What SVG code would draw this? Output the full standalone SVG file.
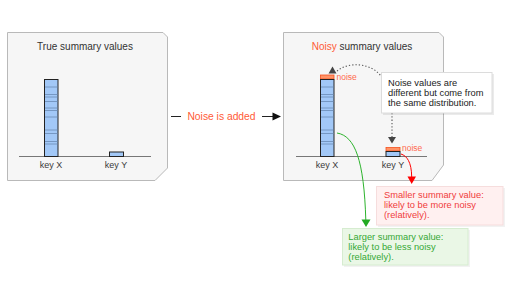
<svg xmlns="http://www.w3.org/2000/svg" width="512" height="290" viewBox="0 0 512 290">
<style>
text{font-family:"Liberation Sans",Arial,sans-serif}
.panel{fill:#f6f6f6;stroke:#b9b9b9;stroke-width:1}
.title{font-size:10px;fill:#333;text-anchor:middle}
.key{font-size:9px;fill:#3a3a3a;text-anchor:middle}
.axis{stroke:#777;stroke-width:1.2}
.bar{fill:#a2c8f7;stroke:#222;stroke-width:1}
.stripe{stroke:#6a8ab4;stroke-width:0.8}
.cap{fill:#ff9366;stroke:#f4511e;stroke-width:0.8}
.noise{font-size:8.5px;fill:#ff6a4d}
.note{font-size:9.3px}
</style>
<g id="panel-true">
<path class="panel" d="M7.5,32.5 H163 L167.5,37 V168 L155,180.5 H7.5 Z"/>
<text class="title" x="85" y="49.5">True summary values</text>
<line class="axis" x1="19" y1="156.5" x2="151" y2="156.5"/>
<rect class="bar" x="44.5" y="79.5" width="13.5" height="77"/>
<g class="stripe">
<line x1="45" x2="57.5" y1="87" y2="87"/><line x1="45" x2="57.5" y1="94.5" y2="94.5"/><line x1="45" x2="57.5" y1="97" y2="97"/><line x1="45" x2="57.5" y1="101.5" y2="101.5"/><line x1="45" x2="57.5" y1="108" y2="108"/><line x1="45" x2="57.5" y1="110.5" y2="110.5"/><line x1="45" x2="57.5" y1="117" y2="117"/><line x1="45" x2="57.5" y1="130" y2="130"/><line x1="45" x2="57.5" y1="133.5" y2="133.5"/><line x1="45" x2="57.5" y1="141.5" y2="141.5"/><line x1="45" x2="57.5" y1="144" y2="144"/>
</g>
<rect class="bar" x="109.5" y="152" width="14" height="4.5"/>
<text class="key" x="51" y="168">key X</text>
<text class="key" x="116" y="168">key Y</text>
</g>
<g id="panel-noisy">
<path class="panel" d="M283.5,32.5 H439 L443.5,37 V165 L432,180.5 H283.5 Z"/>
<text class="title" x="362" y="49.5"><tspan fill="#ff5a36">Noisy</tspan> summary values</text>
<line class="axis" x1="296" y1="156.5" x2="427" y2="156.5"/>
<rect class="cap" x="320.5" y="75" width="13.5" height="4"/>
<rect class="bar" x="320.5" y="79.5" width="13.5" height="77"/>
<g class="stripe">
<line x1="321" x2="333.5" y1="87" y2="87"/><line x1="321" x2="333.5" y1="94.5" y2="94.5"/><line x1="321" x2="333.5" y1="97" y2="97"/><line x1="321" x2="333.5" y1="101.5" y2="101.5"/><line x1="321" x2="333.5" y1="108" y2="108"/><line x1="321" x2="333.5" y1="110.5" y2="110.5"/><line x1="321" x2="333.5" y1="117" y2="117"/><line x1="321" x2="333.5" y1="130" y2="130"/><line x1="321" x2="333.5" y1="133.5" y2="133.5"/><line x1="321" x2="333.5" y1="141.5" y2="141.5"/><line x1="321" x2="333.5" y1="144" y2="144"/>
</g>
<text class="noise" x="336.5" y="79.5">noise</text>
<rect class="cap" x="386" y="147.5" width="14" height="3.5"/>
<rect class="bar" x="386" y="151.5" width="14" height="5"/>
<text class="noise" x="402" y="151">noise</text>
<text class="key" x="327" y="168">key X</text>
<text class="key" x="393" y="168">key Y</text>
</g>
<g id="connectors">
<line x1="171" y1="116.5" x2="181" y2="116.5" stroke="#222" stroke-width="1"/>
<line x1="262" y1="116.5" x2="274" y2="116.5" stroke="#222" stroke-width="1"/>
<polygon points="281,116.5 272.5,112.5 272.5,120.5" fill="#111"/>
<path d="M337,71 C348,62 370,62 381,76" fill="none" stroke="#555" stroke-width="1.1" stroke-dasharray="1.3 2"/>
<polygon points="332.5,66.5 328.5,73.5 336.5,73.5" fill="#444"/>
<path d="M392,113 V137" fill="none" stroke="#555" stroke-width="1.1" stroke-dasharray="1.3 2"/>
<polygon points="392,143.5 388,137 396,137" fill="#444"/>
<path d="M401,154 C407,156 411.5,162 411.7,177" fill="none" stroke="#f00" stroke-width="1"/>
<polygon points="411.7,184 407.5,176.5 416,176.5" fill="#f00"/>
<path d="M337,133 C355,136 364,160 365.8,220" fill="none" stroke="#2db32d" stroke-width="1"/>
<polygon points="366,227 361.5,219.5 370.5,219.5" fill="#22aa22"/>
</g>
<g id="label-added">
<text x="221.5" y="120" font-size="10.3" fill="#ff5a36" text-anchor="middle">Noise is added</text>
</g>
<g id="note-noise">
<rect x="383" y="74" width="111" height="41" fill="#000" opacity="0.08"/>
<rect x="381.5" y="72.5" width="110.5" height="40.5" fill="#fff" stroke="#dcdcdc" stroke-width="1"/>
<text class="note" fill="#222"><tspan x="388" y="85.5">Noise values are</tspan><tspan x="388" y="95.5">different but come from</tspan><tspan x="388" y="105.5">the same distribution.</tspan></text>
</g>
<g id="note-smaller">
<rect x="378" y="188" width="127" height="39" fill="#000" opacity="0.05"/>
<rect x="376.5" y="186.5" width="126.5" height="38.5" fill="#fff0f0" stroke="#f6dddd" stroke-width="1"/>
<text class="note" fill="#f03c3c"><tspan x="384" y="198.3">Smaller summary value:</tspan><tspan x="384" y="208.3">likely to be more noisy</tspan><tspan x="384" y="218.3">(relatively).</tspan></text>
</g>
<g id="note-larger">
<rect x="344" y="230" width="126" height="37" fill="#000" opacity="0.05"/>
<rect x="342.5" y="228.5" width="125.5" height="36.5" fill="#eaf7e6" stroke="#d6ecd0" stroke-width="1"/>
<text class="note" fill="#35a835"><tspan x="348.3" y="240">Larger summary value:</tspan><tspan x="348.3" y="250">likely to be less noisy</tspan><tspan x="348.3" y="260">(relatively).</tspan></text>
</g>
</svg>
